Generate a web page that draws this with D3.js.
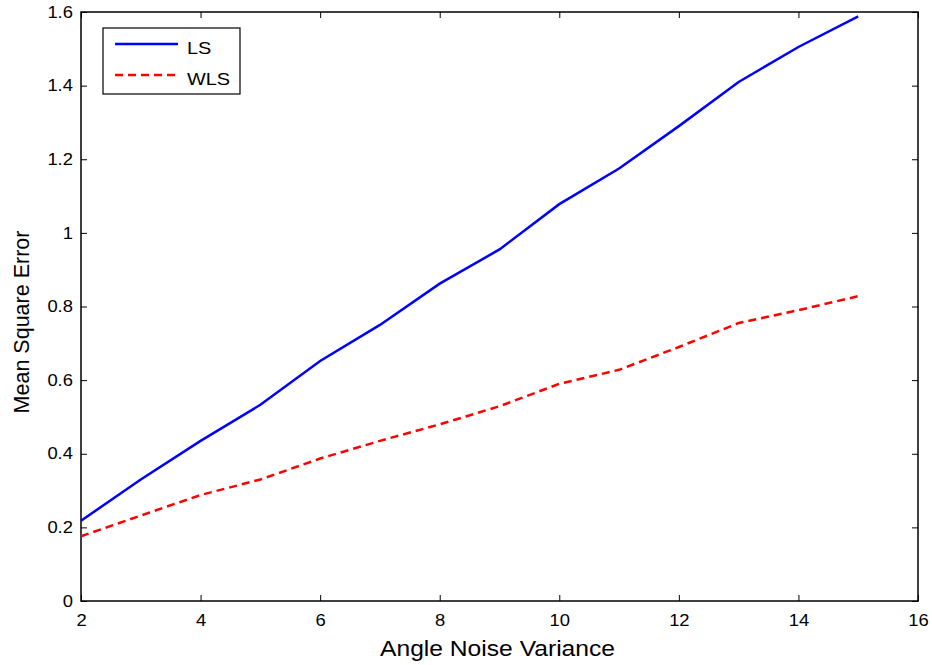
<!DOCTYPE html>
<html>
<head>
<meta charset="utf-8">
<script src="https://cdn.jsdelivr.net/npm/d3@7"></script>
<style>
  body { margin: 0; background: #fff; }
  svg { display: block; font-family: "Liberation Sans", Arial, sans-serif; }
</style>
</head>
<body>
<svg id="chart" width="932" height="665"></svg>
<script>
// noise variance values (x)
var variance = [2, 3, 4, 5, 6, 7, 8, 9, 10, 11, 12, 13, 14, 15];
// mean square error per method
var lsValues  = [0.218, 0.33, 0.435, 0.533, 0.652, 0.75, 0.862, 0.955, 1.078, 1.175, 1.29, 1.41, 1.505, 1.588];
var wlsValues = [0.176, 0.232, 0.288, 0.33, 0.387, 0.435, 0.48, 0.529, 0.59, 0.628, 0.69, 0.755, 0.79, 0.828];
var xTicks = [2, 4, 6, 8, 10, 12, 14, 16];
var yTicks = [0, 0.2, 0.4, 0.6, 0.8, 1, 1.2, 1.4, 1.6];
var seriesNames = ['LS', 'WLS'];

var svg = d3.select('#chart');
var margin = {left: 81, right: 14, top: 12, bottom: 64};
var width = 932 - margin.left - margin.right;
var height = 665 - margin.top - margin.bottom;

var x = d3.scaleLinear().domain([2, 16]).range([0, width]);
var y = d3.scaleLinear().domain([0, 1.6]).range([height, 0]);

var g = svg.append('g').attr('transform', 'translate(' + margin.left + ',' + margin.top + ')');

// text in the source image is a bit wider than normal
var stretch = 'scale(1.15,1)';

// inward ticks on all four sides, MATLAB style
function styleAxis(sel) {
  sel.select('.domain').remove();
  sel.selectAll('.tick line').attr('stroke', '#000').attr('stroke-width', 1);
  sel.selectAll('.tick text').attr('fill', '#000').style('font-size', '16px').attr('transform', stretch);
}

g.append('g')
  .attr('transform', 'translate(0,' + height + ')')
  .call(d3.axisBottom(x).tickValues(xTicks).tickSize(-6).tickPadding(14).tickFormat(d3.format('d')))
  .call(styleAxis);

g.append('g')
  .call(d3.axisTop(x).tickValues(xTicks).tickSize(-6).tickFormat(''))
  .call(styleAxis);

g.append('g')
  .call(d3.axisLeft(y).tickValues(yTicks).tickSize(-6).tickPadding(7).tickFormat(function(d){ return d3.format('')(+d.toFixed(1)); }))
  .call(styleAxis);

g.append('g')
  .attr('transform', 'translate(' + width + ',0)')
  .call(d3.axisRight(y).tickValues(yTicks).tickSize(-6).tickFormat(''))
  .call(styleAxis);

// frame
g.append('rect')
  .attr('width', width).attr('height', height)
  .attr('fill', 'none').attr('stroke', '#000').attr('stroke-width', 1.5);

var line = d3.line()
  .x(function(d){ return x(d[0]); })
  .y(function(d){ return y(d[1]); });

g.append('path')
  .datum(d3.zip(variance, lsValues))
  .attr('d', line)
  .attr('fill', 'none')
  .attr('stroke', '#0000ff')
  .attr('stroke-width', 2.5);

g.append('path')
  .datum(d3.zip(variance, wlsValues))
  .attr('d', line)
  .attr('fill', 'none')
  .attr('stroke', '#ff0000')
  .attr('stroke-width', 2.5)
  .style('stroke-dasharray', '8, 5');

// legend
var legend = svg.append('g').attr('transform', 'translate(103,28)');
legend.append('rect')
  .attr('width', 137).attr('height', 66)
  .attr('fill', '#fff').attr('stroke', '#000').attr('stroke-width', 1.2);

var colors = ['#0000ff', '#ff0000'];
var dashes = [null, '8, 5'];
seriesNames.forEach(function(name, i){
  var ly = 16 + i * 31;
  legend.append('line')
    .attr('x1', 12).attr('x2', 75)
    .attr('y1', ly).attr('y2', ly)
    .attr('stroke', colors[i])
    .attr('stroke-width', 2.5)
    .style('stroke-dasharray', dashes[i]);
  legend.append('text')
    .attr('transform', 'translate(84,' + (ly + 10) + ') scale(1.17,1)')
    .style('font-size', '17px')
    .text(name);
});

// axis titles
svg.append('text')
  .attr('transform', 'translate(' + (margin.left + width / 2 - 2) + ',656) scale(1.12,1)')
  .attr('text-anchor', 'middle')
  .style('font-size', '22px')
  .text('Angle Noise Variance');

svg.append('text')
  .attr('transform', 'translate(29,322) rotate(-90)')
  .attr('text-anchor', 'middle')
  .style('font-size', '21.5px')
  .text('Mean Square Error');
</script>
</body>
</html>
